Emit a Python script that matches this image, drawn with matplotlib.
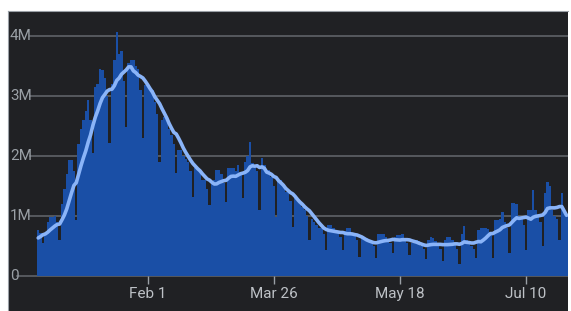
import matplotlib.pyplot as plt
import pandas as pd

# daily values in millions, one per day starting Dec 17 2021
prior_cases = [0.55, 0.35, 0.6, 0.7, 0.72, 0.75]  # days before the window, only for the average
cases = [
    0.77, 0.72, 0.55, 0.7, 0.9, 0.98, 0.98,
    1.0, 0.9, 0.6, 1.2, 1.45, 1.7, 1.93,
    1.93, 1.75, 0.93, 2.2, 2.45, 2.6, 2.75,
    2.93, 2.6, 2.05, 3.15, 3.2, 3.45, 3.43,
    3.3, 3.0, 2.22, 3.2, 3.6, 4.07, 3.7,
    3.75, 3.25, 2.48, 3.55, 3.6, 3.6, 3.5,
    3.45, 3.1, 2.3, 3.18, 3.18, 3.15, 3.1,
    2.9, 2.7, 1.9, 2.6, 2.65, 2.6, 2.45,
    2.35, 2.2, 1.72, 2.1, 2.1, 2.0, 1.95,
    1.9, 1.75, 1.32, 1.8, 1.8, 1.75, 1.6,
    1.6, 1.45, 1.18, 1.55, 1.6, 1.77, 1.77,
    1.7, 1.55, 1.23, 1.8, 1.8, 1.8, 1.75,
    1.85, 1.7, 1.3, 1.9, 2.0, 2.23, 1.88,
    1.8, 1.75, 1.1, 1.97, 1.85, 1.77, 1.77,
    1.65, 1.5, 0.98, 1.6, 1.6, 1.5, 1.4,
    1.4, 1.25, 0.82, 1.3, 1.25, 1.2, 1.15,
    1.1, 1.0, 0.6, 0.95, 0.9, 0.85, 0.8,
    0.8, 0.7, 0.43, 0.85, 0.85, 0.8, 0.75,
    0.75, 0.65, 0.43, 0.75, 0.8, 0.8, 0.72,
    0.68, 0.6, 0.32, 0.63, 0.63, 0.63, 0.6,
    0.58, 0.5, 0.3, 0.7, 0.7, 0.7, 0.65,
    0.6, 0.55, 0.38, 0.65, 0.68, 0.68, 0.7,
    0.6, 0.55, 0.35, 0.55, 0.6, 0.6, 0.58,
    0.5, 0.45, 0.28, 0.6, 0.65, 0.63, 0.58,
    0.5, 0.45, 0.25, 0.6, 0.65, 0.65, 0.6,
    0.55, 0.45, 0.2, 0.7, 0.83, 0.6, 0.57,
    0.5, 0.45, 0.3, 0.77, 0.8, 0.8, 0.8,
    0.78, 0.7, 0.3, 0.93, 0.93, 0.95, 1.07,
    0.9, 0.8, 0.38, 1.22, 1.22, 1.2, 1.0,
    0.95, 0.85, 0.43, 1.1, 1.1, 1.43, 1.1,
    1.0, 0.9, 0.5, 1.38, 1.57, 1.5, 1.1,
    1.0, 0.95, 0.6, 1.38, 1.05, 1.0,
]
start_date = '2021-12-17'
tick_dates = ['2022-02-01', '2022-03-26', '2022-05-18', '2022-07-10']
tick_labels = ['Feb 1', 'Mar 26', 'May 18', 'Jul 10']
y_ticks = [0, 1, 2, 3, 4]
y_labels = ['0', '1M', '2M', '3M', '4M']

BG = '#202124'
BAR = '#1a4fa6'
LINE = '#8ab4f8'
GRID = '#5f6368'

plt.rcParams['font.family'] = ['Roboto', 'DejaVu Sans']

dates = pd.date_range(start_date, periods=len(cases), freq='D')
avg = pd.Series(prior_cases + cases).rolling(7, min_periods=1).mean()
avg = avg.iloc[len(prior_cases):].to_numpy()

W, H = 571, 311
fig = plt.figure(figsize=(W / 100, H / 100), dpi=100, facecolor='white')
left_px, right_px, top_px = 8, 568, 11
ax = fig.add_axes([left_px / W, 0, (right_px - left_px) / W, (H - top_px) / H])
ax.set_facecolor(BG)

px_per_m = 60
base_px = 276  # y pixel of the zero line
ax.set_ylim(-(H - base_px) / px_per_m, (base_px - top_px) / px_per_m)

day0 = pd.Timestamp(start_date)
px_per_day = 2.38
x0_px = 38.2
ax.set_xlim(day0 + pd.Timedelta(days=(left_px - x0_px) / px_per_day),
            day0 + pd.Timedelta(days=(right_px - x0_px) / px_per_day))

span = right_px - left_px
for v, lab in zip(y_ticks, y_labels):
    xmin = (17 - left_px) / span if v == 0 else (30 - left_px) / span
    ax.axhline(v, xmin=xmin, xmax=1, color=GRID, lw=1.2, zorder=1)
    ax.text(2 / span, v, lab, transform=ax.get_yaxis_transform(),
            ha='left', va='center', color='#9aa0a6', fontsize=11, zorder=4)

ax.bar(dates, cases, width=1.02, color=BAR, linewidth=0, zorder=2)
ax.plot(dates, avg, color=LINE, lw=2.6, solid_capstyle='round', zorder=3)

for d, lab in zip(pd.to_datetime(tick_dates), tick_labels):
    ax.vlines(d, -8 / px_per_m, 0, color='#9aa0a6', lw=1.0, zorder=1)
    ax.text(d, -18 / px_per_m, lab, ha='center', va='center',
            color='#bdc1c6', fontsize=11)

ax.set_xticks([])
ax.set_yticks([])
for side in ['right', 'bottom']:
    ax.spines[side].set_visible(False)
for side in ['left', 'top']:
    ax.spines[side].set_color('#9aa0a6')
    ax.spines[side].set_linewidth(0.8)

fig.savefig('out.png', dpi=100, facecolor='white')
